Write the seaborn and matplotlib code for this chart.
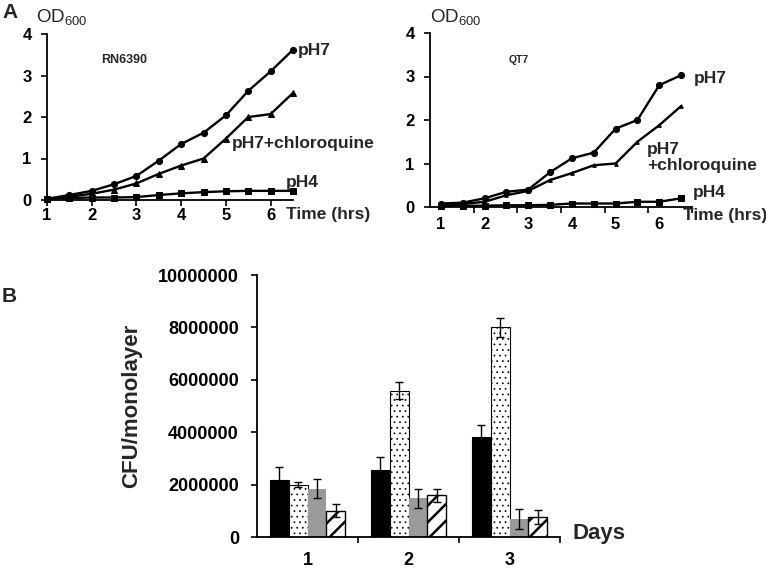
import matplotlib
matplotlib.use("Agg")
import matplotlib.pyplot as plt
import seaborn as sns
import pandas as pd
from matplotlib.ticker import FuncFormatter

# ---------------- data ----------------
time_hrs = [1, 1.5, 2, 2.5, 3, 3.5, 4, 4.5, 5, 5.5, 6, 6.5]

rn_ph7 = [0.03, 0.12, 0.22, 0.38, 0.58, 0.95, 1.35, 1.62, 2.04, 2.63, 3.10, 3.62]
rn_chq = [0.03, 0.08, 0.15, 0.25, 0.40, 0.63, 0.83, 1.00, 1.48, 2.00, 2.07, 2.58]
rn_ph4 = [0.03, 0.05, 0.06, 0.06, 0.07, 0.12, 0.16, 0.19, 0.21, 0.22, 0.22, 0.22]

qt_ph7 = [0.08, 0.10, 0.20, 0.35, 0.40, 0.80, 1.12, 1.25, 1.80, 2.00, 2.80, 3.03]
qt_chq = [0.03, 0.07, 0.12, 0.27, 0.37, 0.62, 0.78, 0.96, 1.00, 1.50, 1.88, 2.32]
qt_ph4 = [0.03, 0.03, 0.03, 0.04, 0.04, 0.05, 0.08, 0.08, 0.08, 0.12, 0.12, 0.20]

growth_ticks = [0, 1, 2, 3, 4]
time_ticks = [1, 2, 3, 4, 5, 6]

days = ["1", "2", "3"]
conditions = ["Condition 1", "Condition 2", "Condition 3", "Condition 4"]
cfu_c1 = [2160000, 2540000, 3810000]
cfu_c2 = [2000000, 5580000, 8000000]
cfu_c3 = [1840000, 1470000, 690000]
cfu_c4 = [1000000, 1590000, 750000]
err_c1 = [500000, 500000, 460000]
err_c2 = [100000, 320000, 360000]
err_c3 = [370000, 380000, 380000]
err_c4 = [250000, 250000, 270000]
cfu_ticks = [0, 2000000, 4000000, 6000000, 8000000, 10000000]

# ---------------- style ----------------
sns.set_style("ticks")
plt.rcParams["font.family"] = ["Liberation Sans", "DejaVu Sans"]
plt.rcParams["mathtext.fontset"] = "custom"
plt.rcParams["mathtext.rm"] = "Liberation Sans"
plt.rcParams["hatch.linewidth"] = 1.8

fig = plt.figure(figsize=(7.66, 5.68), dpi=100)
W, H = 766.0, 568.0


def base_style(ax):
    for s in ["top", "right"]:
        ax.spines[s].set_visible(False)
    for s in ["left", "bottom"]:
        ax.spines[s].set_color("black")
        ax.spines[s].set_linewidth(1.3)
    ax.tick_params(axis="both", colors="black", width=1.2)


def growth_panel(ax, ph7, chq, ph4, tri_size):
    series = [(ph7, "o", 4.4), (chq, "^", tri_size), (ph4, "s", 4.0)]
    for vals, mk, ms in series:
        df = pd.DataFrame({"time": time_hrs, "od": vals})
        sns.lineplot(data=df, x="time", y="od", ax=ax, color="black",
                     marker=mk, markersize=ms, linewidth=1.7,
                     markeredgecolor="black", clip_on=False)
    base_style(ax)
    ax.set_ylim(0, 4)
    ax.set_yticks(growth_ticks)
    ax.set_xlabel("")
    ax.set_ylabel("")
    for lab in ax.get_xticklabels() + ax.get_yticklabels():
        lab.set_fontweight("bold")
        lab.set_fontsize(12)


# ---- Panel A left: RN6390 ----
ax1 = fig.add_axes([47 / W, 1 - 200 / H, 246 / W, 166 / H])
growth_panel(ax1, rn_ph7, rn_chq, rn_ph4, 4.0)
ax1.set_xlim(1, 6.5)
ax1.set_xticks(time_ticks)
ax1.set_xticklabels([str(t) for t in time_ticks], fontweight="bold", fontsize=12)
ax1.tick_params(axis="x", length=4, pad=2)
ax1.tick_params(axis="y", length=4, pad=7)
ax1.text(2.2, 3.3, "RN6390", fontsize=9, fontweight="bold")
ax1.text(6.6, 3.6, "pH7", fontsize=12.5, fontweight="bold", va="center")
ax1.text(5.13, 1.35, "pH7+chloroquine", fontsize=12.5, fontweight="bold", va="center")
ax1.text(6.33, 0.43, "pH4", fontsize=12.5, fontweight="bold", va="center")
fig.text(286 / W, 1 - 214 / H, "Time (hrs)", fontsize=12.5, fontweight="bold", va="center")

# ---- Panel A right: QT7 ----
ax2 = fig.add_axes([430 / W, 1 - 207 / H, 262 / W, 174 / H])
growth_panel(ax2, qt_ph7, qt_chq, qt_ph4, 2.6)
ax2.set_xlim(0.75, 6.75)
ax2.set_xticks(time_ticks)
ax2.set_xticklabels([str(t) for t in time_ticks], fontweight="bold", fontsize=12)
ax2.set_xticks([1.75, 2.75, 3.75, 4.75, 5.75, 6.75], minor=True)
ax2.tick_params(axis="x", which="major", length=0, pad=7)
ax2.tick_params(axis="x", which="minor", length=4, width=1.2, color="black")
ax2.tick_params(axis="y", length=4, pad=7)
ax2.text(2.55, 3.3, "QT7", fontsize=7.5, fontweight="bold")
ax2.text(6.8, 2.95, "pH7", fontsize=12.5, fontweight="bold", va="center")
ax2.text(5.72, 1.13, "pH7\n+chloroquine", fontsize=12.5, fontweight="bold",
         va="center", linespacing=1.1)
ax2.text(6.78, 0.34, "pH4", fontsize=12.5, fontweight="bold", va="center")
fig.text(683 / W, 1 - 216 / H, "Time (hrs)", fontsize=12.5, fontweight="bold", va="center")

# ---- Panel B: bars ----
ax3 = fig.add_axes([257 / W, 1 - 537 / H, 303 / W, 262 / H])
bar_df = pd.DataFrame({
    "day": days * 4,
    "condition": [c for c in conditions for _ in days],
    "cfu": cfu_c1 + cfu_c2 + cfu_c3 + cfu_c4,
})
errs = [err_c1, err_c2, err_c3, err_c4]
vals = [cfu_c1, cfu_c2, cfu_c3, cfu_c4]
sns.barplot(data=bar_df, x="day", y="cfu", hue="condition", order=days,
            hue_order=conditions, errorbar=None, width=0.74, gap=0,
            palette=["black", "white", "#999999", "white"], ax=ax3,
            legend=False, saturation=1)
styles = [
    dict(facecolor="black", edgecolor="black", hatch=None, lw=0.8, hlw=1.0),
    dict(facecolor="white", edgecolor="black", hatch="...", lw=0.8, hlw=0.5),
    dict(facecolor="#9a9a9a", edgecolor="#9a9a9a", hatch=None, lw=0.0, hlw=1.0),
    dict(facecolor="white", edgecolor="black", hatch="//", lw=1.0, hlw=1.8),
]
for cont, st, v, e in zip(ax3.containers, styles, vals, errs):
    xs = []
    for bar in cont:
        bar.set_facecolor(st["facecolor"])
        bar.set_edgecolor(st["edgecolor"])
        bar.set_linewidth(st["lw"])
        if st["hatch"]:
            bar.set_hatch(st["hatch"])
            if hasattr(bar, "set_hatch_linewidth"):
                bar.set_hatch_linewidth(st["hlw"])
        xs.append(bar.get_x() + bar.get_width() / 2)
    ax3.errorbar(xs, v, yerr=e, fmt="none", ecolor="black", elinewidth=1.0,
                 capsize=3, capthick=1.0, zorder=5)

base_style(ax3)
ax3.set_xlim(-0.5, 2.5)
ax3.set_ylim(0, 10000000)
ax3.set_yticks(cfu_ticks)
ax3.yaxis.set_major_formatter(FuncFormatter(lambda v, p: "%d" % v))
ax3.set_xticks([0.5, 1.5, 2.5], minor=True)
ax3.tick_params(axis="x", which="major", length=0, pad=11)
ax3.tick_params(axis="x", which="minor", length=4, width=1.2, color="black")
ax3.tick_params(axis="y", length=4, pad=9)
for lab in ax3.get_xticklabels() + ax3.get_yticklabels():
    lab.set_fontweight("bold")
    lab.set_fontsize(13)
ax3.set_xlabel("")
ax3.set_ylabel("")
fig.text(132 / W, 1 - 406 / H, "CFU/monolayer", rotation=90, fontsize=16,
         fontweight="bold", ha="center", va="center")
fig.text(573 / W, 1 - 533 / H, "Days", fontsize=16, fontweight="bold", va="center")

# ---- panel letters and y titles ----
fig.text(2 / W, 1 - 13 / H, "A", fontsize=15, fontweight="bold", va="center")
fig.text(2 / W, 1 - 297 / H, "B", fontsize=15, fontweight="bold", va="center")
fig.text(36 / W, 1 - 18 / H, r"OD$_{\mathregular{600}}$", fontsize=13.5, va="center")
fig.text(430 / W, 1 - 18 / H, r"OD$_{\mathregular{600}}$", fontsize=13.5, va="center")

fig.savefig("out.png", dpi=100)
